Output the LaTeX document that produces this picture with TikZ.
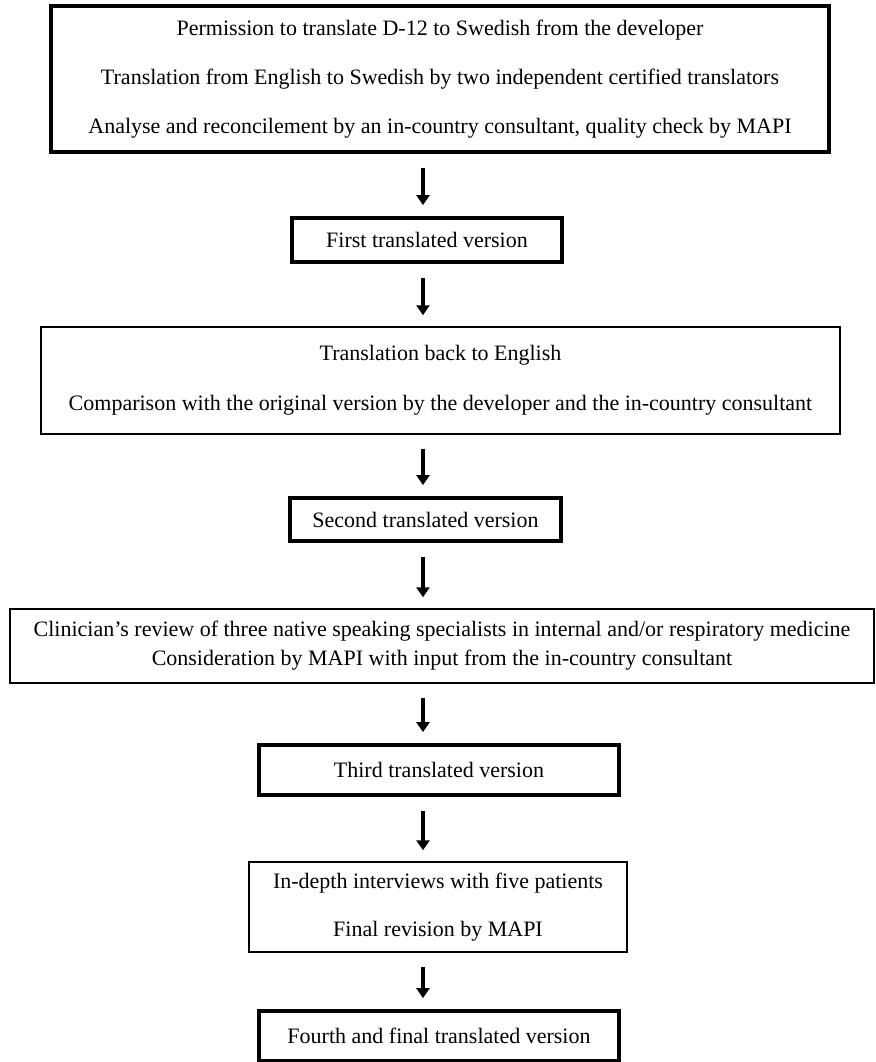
\documentclass[tikz,border=0pt]{standalone}
\usepackage{fontspec}
\setmainfont{Liberation Serif}
\usetikzlibrary{arrows.meta,calc}

\begin{document}
\begin{tikzpicture}[x=0.5pt,y=-0.5pt,
 stepbox/.style={draw=black,line width=0.75pt,align=center,inner sep=0pt,font=\fontsize{11}{24.5}\selectfont},
 headbox/.style={stepbox,line width=1.6pt},
 versionbox/.style={draw=black,line width=1.9pt,align=center,inner sep=0pt,font=\fontsize{11}{13}\selectfont},
 flowarrow/.style={-{Triangle[length=5pt,width=6.5pt]},line width=2.2pt,shorten <=7pt,shorten >=5.5pt}
]
\useasboundingbox (0,0) rectangle (875,1062);
\coordinate (axis) at (423,0);
\node[headbox,minimum width=389pt,minimum height=73pt] (permission) at (440,79)
  {Permission to translate D-12 to Swedish from the developer\\
   Translation from English to Swedish by two independent certified translators\\
   Analyse and reconcilement by an in-country consultant, quality check by MAPI};
\node[versionbox,minimum width=135pt,minimum height=22pt] (first) at (427,240) {First translated version};
\node[stepbox,minimum width=399.5pt,minimum height=53.5pt,font=\fontsize{11}{25}\selectfont] (backtrans) at (440.5,380.5)
  {Translation back to English\\
   Comparison with the original version by the developer and the in-country consultant};
\node[versionbox,minimum width=135.5pt,minimum height=21.5pt] (second) at (425.5,519.5) {Second translated version};
\node[stepbox,minimum width=432pt,minimum height=37pt,font=\fontsize{11}{14.5}\selectfont] (clinician) at (442,646)
  {Clinician’s review of three native speaking specialists in internal and/or respiratory medicine\\
   Consideration by MAPI with input from the in-country consultant};
\node[versionbox,minimum width=180pt,minimum height=25pt] (third) at (439,770) {Third translated version};
\node[stepbox,minimum width=189pt,minimum height=45pt,font=\fontsize{11}{24}\selectfont] (interviews) at (438,907)
  {In-depth interviews with five patients\\
   Final revision by MAPI};
\node[versionbox,minimum width=180pt,minimum height=25pt] (fourth) at (439,1036) {Fourth and final translated version};
\draw[flowarrow] (permission.south -| axis) -- (first.north -| axis);
\draw[flowarrow] (first.south -| axis) -- (backtrans.north -| axis);
\draw[flowarrow] (backtrans.south -| axis) -- (second.north -| axis);
\draw[flowarrow] (second.south -| axis) -- (clinician.north -| axis);
\draw[flowarrow] (clinician.south -| axis) -- (third.north -| axis);
\draw[flowarrow] (third.south -| axis) -- (interviews.north -| axis);
\draw[flowarrow] (interviews.south -| axis) -- (fourth.north -| axis);
\end{tikzpicture}
\end{document}
